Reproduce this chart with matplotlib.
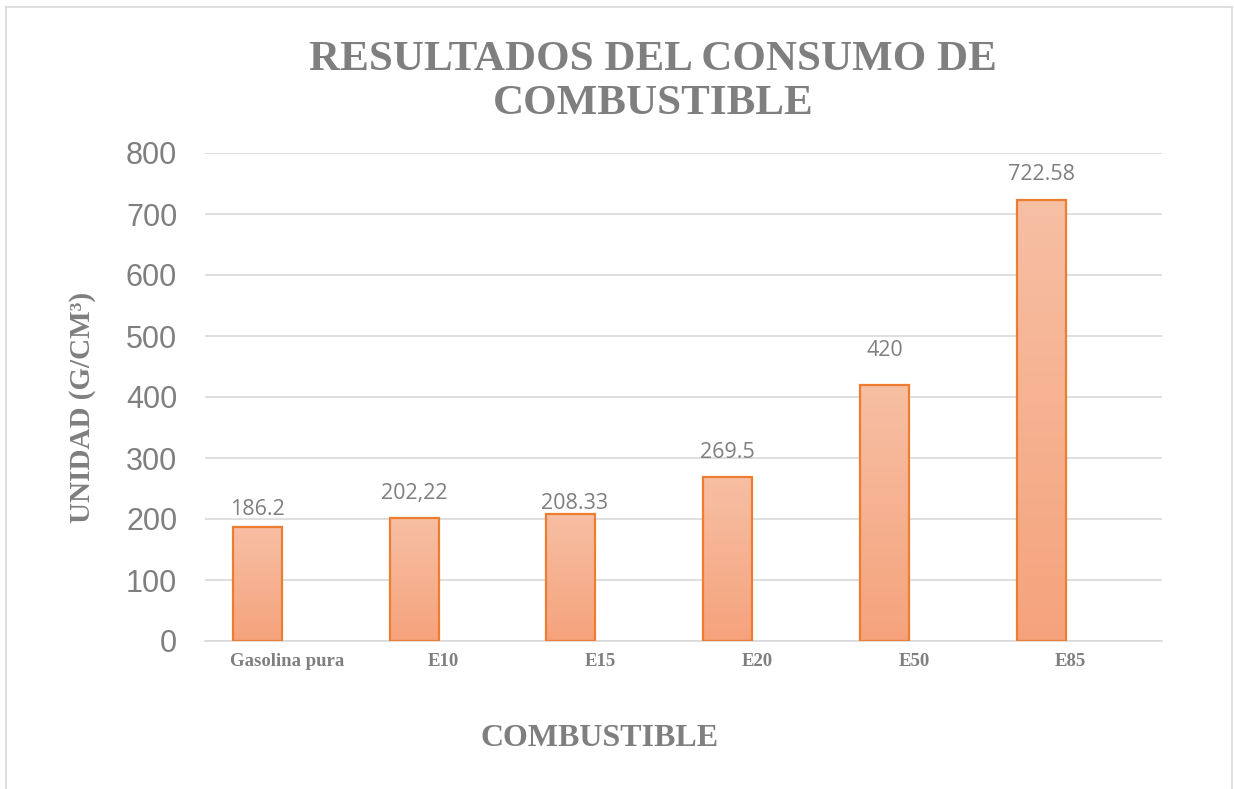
import matplotlib
matplotlib.use('Agg')
import numpy as np
import matplotlib.pyplot as plt
from matplotlib.lines import Line2D
from matplotlib.colors import LinearSegmentedColormap

# data
categories = ['Gasolina pura', 'E10', 'E15', 'E20', 'E50', 'E85']
values = [186.2, 202.22, 208.33, 269.5, 420, 722.58]
value_labels = ['186.2', '202,22', '208.33', '269.5', '420', '722.58']
yticks = [0, 100, 200, 300, 400, 500, 600, 700, 800]

# label offsets above each bar (points), hand placed in the original
label_dy = [5, 10, 0, 10, 17, 11]
label_dx = [0, 0, 3, 0, 0, 0]

gray = '#7f7f7f'
grid_gray = '#d9d9d9'
edge = '#ed7d31'
grad = LinearSegmentedColormap.from_list('bar', ['#f5a37c', '#f7bfa4'])

fig = plt.figure(figsize=(12.34, 7.89), dpi=100)
ax = fig.add_axes([205 / 1234, 1 - 641 / 789, (1162 - 205) / 1234, (641 - 153) / 789])

x = np.arange(len(categories))
shift = 0.188
width = 0.3125

bars = ax.bar(x - shift, values, width=width, color='none', edgecolor=edge,
              linewidth=1.6, zorder=3)

# vertical gradient inside each bar
g = np.linspace(0, 1, 256).reshape(-1, 1)
for b in bars:
    x0, y0 = b.get_x(), b.get_y()
    w, h = b.get_width(), b.get_height()
    im = ax.imshow(g, cmap=grad, aspect='auto', origin='lower',
                   extent=[x0, x0 + w, y0, y0 + h], zorder=2)
    im.set_clip_path(b)

for i, b in enumerate(bars):
    ax.annotate(value_labels[i], (b.get_x() + b.get_width() / 2, b.get_height()),
                xytext=(label_dx[i], label_dy[i]), textcoords='offset points',
                ha='center', va='bottom', fontsize=15.5, color=gray,
                family='Open Sans')

ax.set_xlim(-0.521, 5.582)
ax.set_ylim(0, 800)
ax.set_yticks(yticks)
ax.set_xticks(x)
ax.set_xticklabels(categories, family='Liberation Serif', fontweight='bold',
                   fontsize=13.5, color=gray)
for lab in ax.get_yticklabels():
    lab.set_family('Liberation Sans')
    lab.set_fontsize(22)
    lab.set_color(gray)
ax.tick_params(axis='both', length=0)
ax.tick_params(axis='y', pad=20)
ax.tick_params(axis='x', pad=9)

ax.grid(axis='y', color=grid_gray, linewidth=1.2, zorder=0)
ax.set_axisbelow(True)
for s in ['top', 'right', 'left']:
    ax.spines[s].set_visible(False)
ax.spines['bottom'].set_color(grid_gray)
ax.spines['bottom'].set_linewidth(1.2)

fig.text(0.529, 1 - 82 / 789, 'RESULTADOS DEL CONSUMO DE\nCOMBUSTIBLE', ha='center',
         va='center', fontsize=31, fontweight='bold', color=gray,
         family='Liberation Serif', linespacing=1.22)
fig.text(600 / 1234, 1 - 739 / 789, 'COMBUSTIBLE', ha='center', va='center',
         fontsize=23, fontweight='bold', color=gray, family='Liberation Serif')
fig.text(83 / 1234, 1 - 407 / 789, 'UNIDAD (G/CM³)', ha='center', va='center',
         rotation=90, fontsize=21, fontweight='bold', color=gray,
         family='Liberation Serif')

# chart frame
W, H = 1234, 789
fig.add_artist(Line2D([6 / W, 6 / W], [0, 1 - 7 / H], color=grid_gray, lw=1.2))
fig.add_artist(Line2D([6 / W, 1232 / W], [1 - 7 / H, 1 - 7 / H], color=grid_gray, lw=1.2))
fig.add_artist(Line2D([1232 / W, 1232 / W], [0, 1 - 7 / H], color=grid_gray, lw=1.2))

fig.savefig('out.png', dpi=100)
